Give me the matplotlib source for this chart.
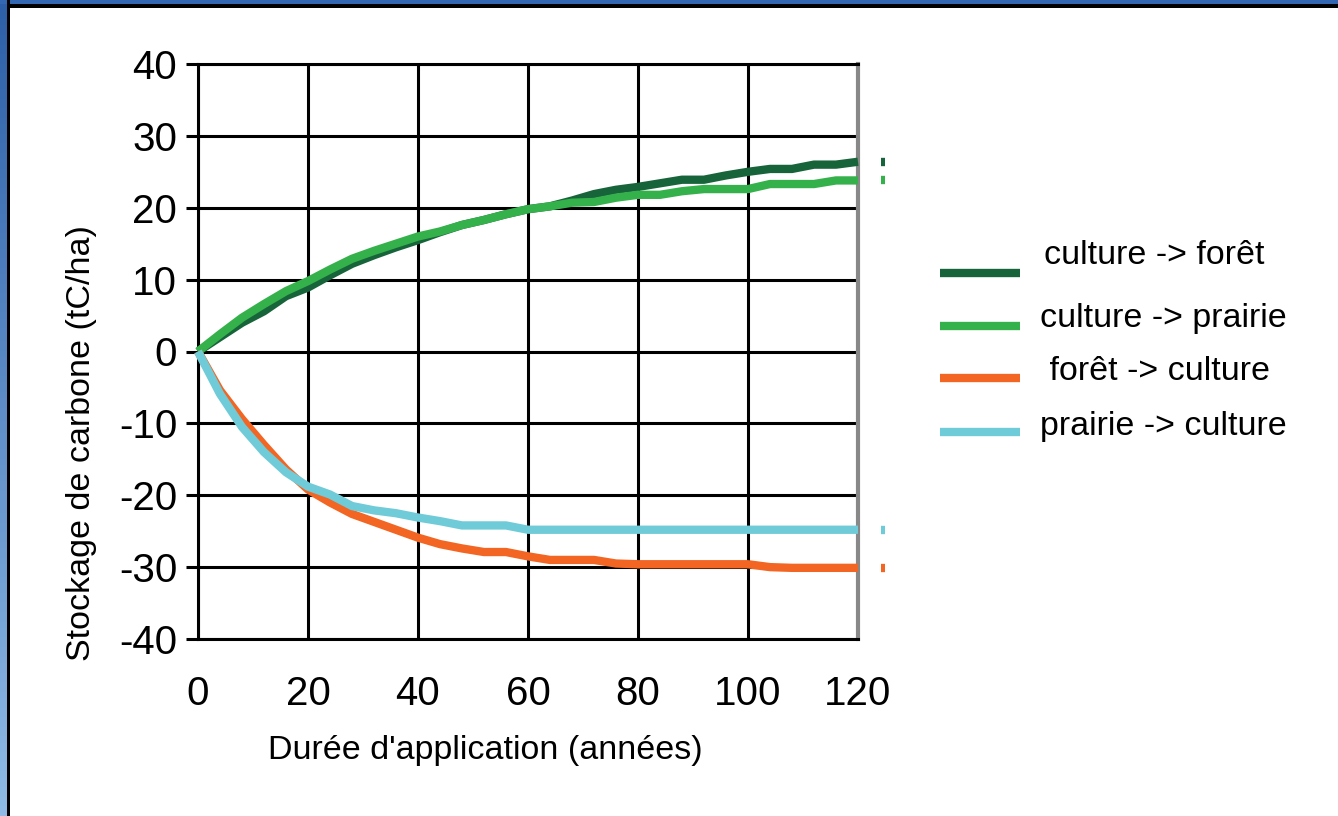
import numpy as np
import matplotlib
matplotlib.use('Agg')
import matplotlib.pyplot as plt
from matplotlib.lines import Line2D
from matplotlib.patches import Rectangle

plt.rcParams['font.family'] = ['Liberation Sans', 'DejaVu Sans']
plt.rcParams['axes.unicode_minus'] = False

# data (every 4 years)
years = list(range(0, 121, 4))
culture_foret = [0, 2.0, 4.0, 5.6, 7.7, 8.9, 10.6, 12.2, 13.4, 14.5, 15.5, 16.6, 17.6, 18.3,
                 19.1, 19.8, 20.2, 21.0, 21.9, 22.5, 22.9, 23.4, 23.9, 23.9, 24.5, 25.0,
                 25.4, 25.4, 26.0, 26.0, 26.4]
culture_prairie = [0, 2.4, 4.7, 6.6, 8.4, 9.8, 11.4, 12.9, 14.0, 15.0, 16.0, 16.7, 17.6, 18.3,
                   19.1, 19.8, 20.2, 20.7, 20.8, 21.4, 21.8, 21.8, 22.3, 22.6, 22.6, 22.6,
                   23.3, 23.3, 23.3, 23.8, 23.8]
foret_culture = [0, -5.4, -9.4, -13.0, -16.4, -19.2, -21.0, -22.6, -23.7, -24.8, -25.9, -26.8,
                 -27.4, -27.9, -27.9, -28.5, -29.0, -29.0, -29.0, -29.5, -29.6, -29.6, -29.6,
                 -29.6, -29.6, -29.6, -30.0, -30.1, -30.1, -30.1, -30.1]
prairie_culture = [0, -5.9, -10.5, -14.0, -16.8, -18.8, -19.9, -21.5, -22.1, -22.5, -23.1, -23.6,
                   -24.2, -24.2, -24.2, -24.8, -24.8, -24.8, -24.8, -24.8, -24.8, -24.8, -24.8,
                   -24.8, -24.8, -24.8, -24.8, -24.8, -24.8, -24.8, -24.8]

labels = ['culture -> forêt', 'culture -> prairie', ' forêt -> culture', 'prairie -> culture']
colors = ['#17643a', '#35b14b', '#f26522', '#6fcbd8']
series = [culture_foret, culture_prairie, foret_culture, prairie_culture]

W, H = 1338, 816
fig = plt.figure(figsize=(W / 100, H / 100), dpi=100)

def fx(px):
    return px / W

def fy(py):
    return 1 - py / H

ax = fig.add_axes([fx(198), fy(639), fx(858) - fx(198), fy(64) - fy(639)])

# the curves
for vals, c in zip(series, colors):
    ax.plot(years, vals, color=c, lw=6, solid_capstyle='butt', zorder=3, clip_on=False)
    # little stray stub past the right edge
    ax.plot([124.1, 124.9], [vals[-1], vals[-1]], color=c, lw=6,
            solid_capstyle='butt', clip_on=False, zorder=3)

ax.set_xlim(0, 120)
ax.set_ylim(-40, 40)
ax.set_xticks(range(0, 121, 20))
ax.set_yticks(range(-40, 41, 10))
ax.grid(True, color='black', lw=2.2, zorder=1)
ax.set_axisbelow(True)
for s in ['left', 'bottom', 'top']:
    ax.spines[s].set_color('black')
    ax.spines[s].set_linewidth(2.2)
ax.spines['right'].set_color('#888888')
ax.spines['right'].set_linewidth(3)
ax.tick_params(axis='y', length=9, width=2.2, direction='out', labelsize=29, pad=6)
ax.tick_params(axis='x', length=0, labelsize=29, pad=26)

# axis titles
fig.text(fx(485), fy(750), "Durée d'application (années)", fontsize=24.5,
         ha='center', va='center')
fig.text(fx(82), fy(443), 'Stockage de carbone (tC/ha)', fontsize=24.5,
         ha='center', va='center', rotation=90)

# legend drawn by hand
leg_y = [273, 326, 378, 432]
txt_y = [256, 319, 372, 426]
txt_x = [1044, 1040, 1040, 1040]
for lab, c, ly, ty, tx in zip(labels, colors, leg_y, txt_y, txt_x):
    fig.add_artist(Line2D([fx(940), fx(1020)], [fy(ly), fy(ly)], color=c, lw=6,
                          solid_capstyle='butt'))
    fig.text(fx(tx), fy(ty), lab, fontsize=24.5, ha='left', va='center')

# slide frame: blue strip on the left and top, black inner line
grad = fig.add_axes([0, 0, fx(7), 1])
grad.imshow(np.linspace(0, 1, 256).reshape(-1, 1), aspect='auto',
            cmap=matplotlib.colors.LinearSegmentedColormap.from_list('b', ['#2d5fa8', '#8fbbe6']))
grad.axis('off')
fig.add_artist(Rectangle((0, fy(4)), 1, fy(0) - fy(4), color='#3467b1', lw=0))
fig.add_artist(Rectangle((fx(7), 0), fx(3), 1, color='black', lw=0))
fig.add_artist(Rectangle((fx(7), fy(8)), 1, fy(4) - fy(8), color='black', lw=0))

plt.savefig('out.png', dpi=100)
